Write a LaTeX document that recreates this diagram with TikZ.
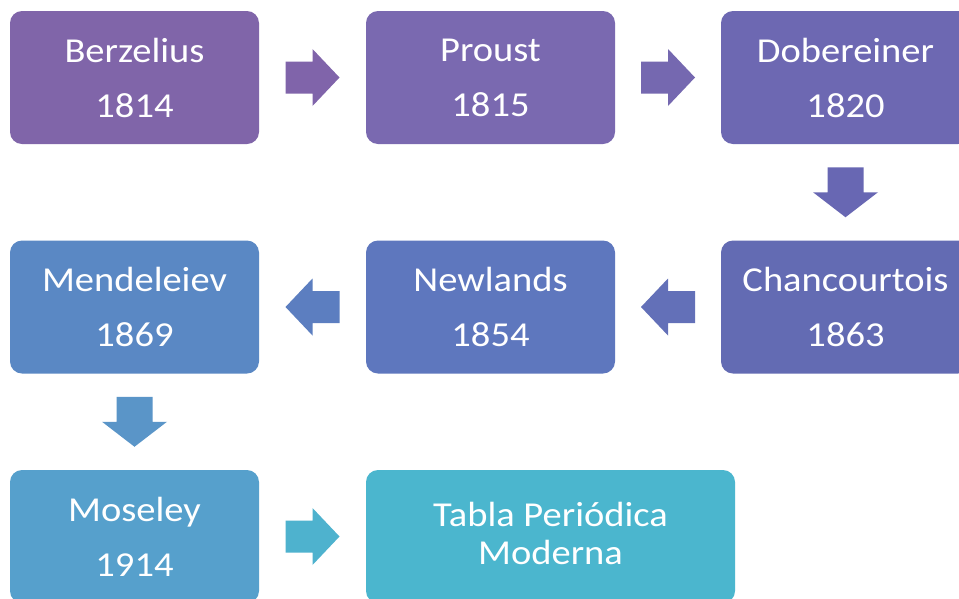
\documentclass[tikz,border=0pt]{standalone}
\usepackage{fontspec}
\setmainfont{Carlito}[FakeStretch=1.1]
\usetikzlibrary{calc}
\definecolor{c1}{HTML}{8065A9}
\definecolor{c2}{HTML}{7A69B0}
\definecolor{c3}{HTML}{6D68B2}
\definecolor{c4}{HTML}{636BB3}
\definecolor{c5}{HTML}{5E77BE}
\definecolor{c6}{HTML}{5A88C4}
\definecolor{c7}{HTML}{56A0CC}
\definecolor{c8}{HTML}{4BB6CE}
\definecolor{a1}{HTML}{8064AA}
\definecolor{a2}{HTML}{7568B0}
\definecolor{a3}{HTML}{6867B3}
\definecolor{a4}{HTML}{6370B8}
\definecolor{a5}{HTML}{5C7EC0}
\definecolor{a6}{HTML}{5A95C8}
\definecolor{a7}{HTML}{4EB2CE}
\tikzset{
  box/.style={rounded corners=12pt, minimum width=249pt, minimum height=133pt,
    inner sep=0pt, text=white, align=center, font=\fontsize{35}{55}\selectfont},
  rarrow/.pic={\fill[#1] (-27,-16) -- (0,-16) -- (0,-28.5) -- (27,0) -- (0,28.5) -- (0,16) -- (-27,16) -- cycle;},
  larrow/.pic={\fill[#1] (27,-16) -- (0,-16) -- (0,-28.5) -- (-27,0) -- (0,28.5) -- (0,16) -- (27,16) -- cycle;},
  darrow/.pic={\fill[#1] (-18,-25) -- (18,-25) -- (18,0) -- (32.5,0) -- (0,25) -- (-32.5,0) -- (-18,0) -- cycle;}
}
\begin{document}
\begin{tikzpicture}[x=1pt,y=-1pt]
\useasboundingbox (0,0) rectangle (959,598);
\fill[white] (0,0) rectangle (959,598);
\clip (0,0) rectangle (959,598);
\node[box, fill=c1] (B1) at (134.5,77.5) {Berzelius\\1814};
\node[box, fill=c2] (B2) at (490.5,77.5) {Proust\\1815};
\node[box, fill=c3] (B3) at (845.5,77.5) {Dobereiner\\1820};
\node[box, fill=c4] (B4) at (845.5,307) {Chancourtois\\1863};
\node[box, fill=c5] (B5) at (490.5,307) {Newlands\\1854};
\node[box, fill=c6] (B6) at (134.5,307) {Mendeleiev\\1869};
\node[box, fill=c7] (B7) at (134.5,536.5) {Moseley\\1914};
\node[box, fill=c8, minimum width=369pt, font=\fontsize{35}{38}\selectfont] (B8) at (550.5,536.5) {Tabla Periódica\\Moderna\rule[-7pt]{0pt}{0pt}};
\pic at ($(B1.east)!0.5!(B2.west)$) {rarrow=a1};
\pic at ($(B2.east)!0.5!(B3.west)$) {rarrow=a2};
\pic at ($(B3.south)!0.5!(B4.north)$) {darrow=a3};
\pic at ($(B4.west)!0.5!(B5.east)$) {larrow=a4};
\pic at ($(B5.west)!0.5!(B6.east)$) {larrow=a5};
\pic at ($(B6.south)!0.5!(B7.north)$) {darrow=a6};
\pic at ($(B7.east)!0.5!(B8.west)$) {rarrow=a7};
\end{tikzpicture}
\end{document}
